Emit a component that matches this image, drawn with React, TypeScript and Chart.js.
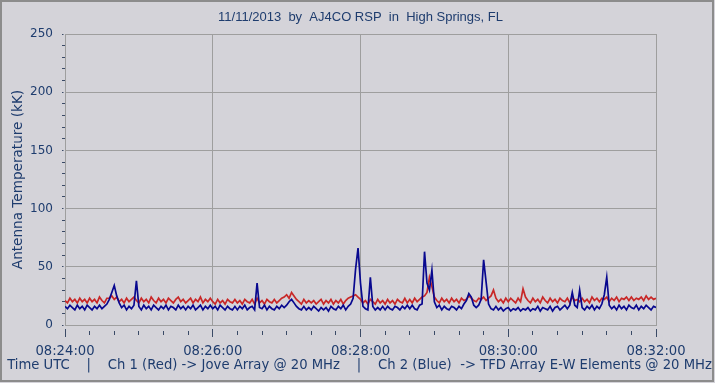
import React, { useEffect, useRef } from "react";
import { Chart, registerables } from "chart.js";

Chart.register(...registerables);

// ---- data ----
const SAMPLE_SECONDS = 2; // one sample every 2 s starting at 08:24:00
const X_TICK_LABELS = ["08:24:00", "08:26:00", "08:28:00", "08:30:00", "08:32:00"];
const Y_TICK_LABELS = ["0", "50", "100", "150", "200", "250"];

const CH2_BLUE = [
  16, 14, 17, 15, 13, 17, 14, 16, 13, 17,
  15, 13, 16, 14, 17, 14, 16, 18, 22, 28,
  34, 25, 19, 15, 17, 13, 16, 14, 17, 38,
  16, 13, 17, 14, 16, 13, 17, 15, 13, 16,
  14, 17, 13, 16, 15, 13, 17, 14, 16, 13,
  16, 14, 17, 13, 15, 17, 13, 16, 14, 17,
  14, 16, 13, 17, 15, 13, 16, 14, 13, 16,
  13, 16, 14, 17, 13, 15, 16, 13, 36, 15,
  14, 17, 13, 16, 14, 13, 16, 14, 17, 15,
  17, 20, 22, 19, 16, 14, 13, 16, 13, 15,
  13, 16, 14, 12, 15, 13, 15, 12, 16, 14,
  13, 16, 14, 17, 13, 16, 18, 23, 48, 66,
  36, 16, 14, 13, 41, 16, 13, 15, 13, 16,
  13, 16, 14, 13, 16, 15, 13, 16, 14, 17,
  14, 17, 14, 13, 17, 18, 63, 36, 30, 47,
  20, 15, 17, 13, 16, 14, 13, 16, 15, 13,
  16, 14, 18, 21, 27, 24, 17, 15, 17, 22,
  56, 37, 18, 14, 13, 16, 13, 15, 12, 14,
  15, 12, 14, 13, 15, 12, 14, 13, 15, 12,
  14, 13, 16, 12, 15, 14, 13, 16, 12, 15,
  16, 13, 15, 17, 14, 17, 28, 17, 15, 30,
  15, 13, 16, 14, 17, 13, 16, 14, 18, 26,
  41, 17, 14, 16, 13, 17, 14, 16, 13, 17,
  15, 14, 17, 13, 16, 14, 17, 15, 13, 16, 15,
];

const CH1_RED = [
  21, 19, 23, 20, 22, 19, 23, 20, 22, 19,
  23, 20, 22, 19, 24, 21, 19, 23, 23, 25,
  22, 24, 20, 22, 19, 23, 20, 22, 24, 21,
  19, 23, 20, 22, 19, 24, 21, 19, 23, 20,
  22, 19, 23, 21, 19, 22, 24, 20, 22, 19,
  21, 23, 19, 22, 20, 24, 19, 22, 20, 23,
  20, 18, 22, 19, 21, 18, 22, 20, 19, 22,
  19, 21, 18, 22, 20, 19, 22, 18, 23, 19,
  21, 18, 22, 20, 19, 22, 19, 21, 23, 24,
  26, 23, 28, 25, 22, 20, 18, 22, 19, 21,
  19, 21, 18, 20, 22, 18, 21, 19, 22, 18,
  21, 19, 22, 18, 21, 23, 24, 25, 26, 24,
  22, 19, 21, 18, 22, 20, 18, 22, 19, 21,
  18, 22, 19, 21, 18, 22, 20, 19, 23, 19,
  22, 19, 23, 20, 22, 24, 25, 28, 41, 33,
  24, 21, 19, 23, 20, 22, 19, 23, 20, 22,
  19, 23, 21, 22, 25, 23, 21, 20, 23, 22,
  24, 21, 23, 25, 30, 23, 20, 22, 19, 23,
  20, 23, 21, 19, 23, 20, 31, 24, 21, 19,
  23, 20, 22, 19, 24, 21, 19, 23, 20, 22,
  19, 23, 21, 20, 23, 19, 24, 21, 22, 20,
  23, 20, 22, 19, 24, 21, 23, 20, 23, 22,
  24, 20, 23, 21, 24, 20, 23, 22, 24, 21,
  24, 21, 23, 22, 24, 21, 25, 22, 24, 22, 23,
];

const TITLE = "11/11/2013  by  AJ4CO RSP  in  High Springs, FL";
const X_TITLE =
  "Time UTC    |    Ch 1 (Red) -> Jove Array @ 20 MHz    |    Ch 2 (Blue)  -> TFD Array E-W Elements @ 20 MHz";
const Y_TITLE = "Antenna Temperature (kK)";

// ---- styles ----
const BG = "#D4D3D9";
const TXT = "#1E3C6E";
const GRID = "#9E9E9E";
const TICK = "#3A4A66";
const RED = "#C82828";
const BLUE = "#08088F";

const toPoints = (arr: number[]) => arr.map((v, i) => ({ x: i * SAMPLE_SECONDS, y: v }));

const framePlugin = {
  id: "frame",
  beforeDraw(chart: any) {
    const { ctx, width, height } = chart;
    ctx.save();
    ctx.fillStyle = BG;
    ctx.fillRect(0, 0, width, height);
    ctx.strokeStyle = "#8C8C8C";
    ctx.lineWidth = 2;
    ctx.strokeRect(1, 1, width - 3, height - 3);
    ctx.restore();
  },
  afterDraw(chart: any) {
    const { ctx } = chart;
    ctx.save();
    ctx.fillStyle = TXT;
    ctx.font = "13.2px 'DejaVu Sans'";
    ctx.textAlign = "center";
    ctx.textBaseline = "middle";
    ctx.fillText(X_TITLE, 359.5, 366);
    ctx.restore();
  },
};

export default function App() {
  const ref = useRef<HTMLCanvasElement | null>(null);

  useEffect(() => {
    if (!ref.current) return;
    const isMajorX = (c: any) => c.tick && c.tick.value % 120 === 0;
    const isMajorY = (c: any) => c.tick && c.tick.value % 50 === 0;
    const chart = new Chart(ref.current, {
      type: "line",
      data: {
        datasets: [
          {
            label: "Ch 1 (Red)",
            data: toPoints(CH1_RED),
            borderColor: RED,
            borderWidth: 1.7,
            pointRadius: 0,
            tension: 0,
            order: 1,
          },
          {
            label: "Ch 2 (Blue)",
            data: toPoints(CH2_BLUE),
            borderColor: BLUE,
            borderWidth: 1.7,
            pointRadius: 0,
            tension: 0,
            order: 0,
          },
        ],
      },
      options: {
        animation: false,
        responsive: false,
        layout: { padding: { left: 6, right: 0, top: 0, bottom: 0 } },
        plugins: {
          legend: { display: false },
          tooltip: { enabled: false },
          title: {
            display: true,
            text: TITLE,
            color: TXT,
            font: { family: "Liberation Sans", size: 13, weight: "normal" },
            padding: { top: 10, bottom: 8.4 },
          },
        },
        scales: {
          x: {
            type: "linear",
            min: 0,
            max: 480,
            afterFit: (s: any) => {
              s.height = 58;
            },
            ticks: {
              stepSize: 20,
              autoSkip: false,
              maxRotation: 0,
              padding: 7,
              color: TXT,
              font: { family: "DejaVu Sans", size: 13.2 },
              callback: (v: any) => (v % 120 === 0 ? X_TICK_LABELS[v / 120] : ""),
            },
            grid: {
              color: (c: any) => (isMajorX(c) ? GRID : "rgba(0,0,0,0)"),
              lineWidth: 1,
              tickLength: 12,
              tickColor: TICK,
              tickWidth: 1,
              tickBorderDash: (c: any) => (isMajorX(c) ? [0, 3, 8, 50] : [0, 5, 4, 50]),
            },
            border: { color: GRID, width: 1 },
            title: { display: false },
          },
          y: {
            min: 0,
            max: 250,
            afterFit: (s: any) => {
              s.width = 59;
            },
            ticks: {
              stepSize: 10,
              autoSkip: false,
              padding: 4,
              color: TXT,
              font: { family: "DejaVu Sans", size: 12 },
              callback: (v: any) => (v % 50 === 0 ? Y_TICK_LABELS[v / 50] : ""),
            },
            grid: {
              color: (c: any) => (isMajorY(c) ? GRID : "rgba(0,0,0,0)"),
              lineWidth: 1,
              tickLength: 8,
              tickColor: TICK,
              tickWidth: 1,
              tickBorderDash: (c: any) => (isMajorY(c) ? [0, 5, 1.5, 50] : [0, 5, 3, 50]),
            },
            border: { color: GRID, width: 1 },
            title: {
              display: true,
              text: Y_TITLE,
              color: TXT,
              font: { family: "DejaVu Sans", size: 13.6 },
              padding: { top: 4.3, bottom: 0 },
            },
          },
          yRightSpace: {
            position: "right",
            min: 0,
            max: 1,
            afterFit: (s: any) => {
              s.width = 59;
            },
            ticks: { display: false },
            grid: { display: false, drawTicks: false },
            border: { display: false },
            title: { display: false },
          },
        },
      },
      plugins: [framePlugin],
    } as any);
    return () => chart.destroy();
  }, []);

  return (
    <canvas
      ref={ref}
      width={715}
      height={383}
      style={{ position: "absolute", left: 0, top: 0, width: 715, height: 383 }}
    />
  );
}
